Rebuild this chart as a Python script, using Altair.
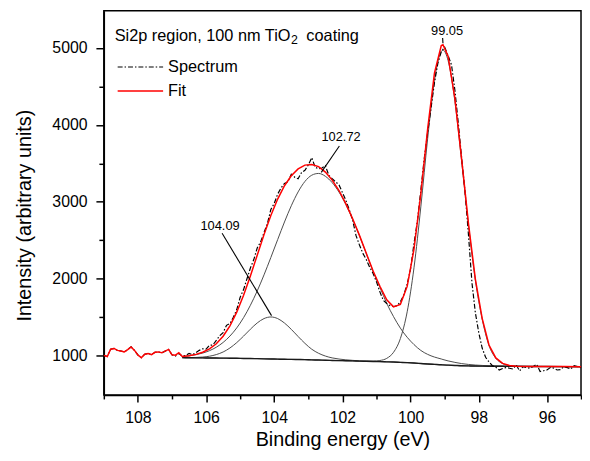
import altair as alt
import pandas as pd

# ---------------- data ----------------
# measured spectrum, binding energy 109.0 -> 95.0 eV, 0.1 eV steps
spec_x = [
    109.0, 108.9, 108.8, 108.7, 108.6, 108.5, 108.4, 108.3, 108.2, 108.1,
    108.0, 107.9, 107.8, 107.7, 107.6, 107.5, 107.4, 107.3, 107.2, 107.1,
    107.0, 106.9, 106.8, 106.7, 106.6, 106.5, 106.4, 106.3, 106.2, 106.1,
    106.0, 105.9, 105.8, 105.7, 105.6, 105.5, 105.4, 105.3, 105.2, 105.1,
    105.0, 104.9, 104.8, 104.7, 104.6, 104.5, 104.4, 104.3, 104.2, 104.1,
    104.0, 103.9, 103.8, 103.7, 103.6, 103.5, 103.4, 103.3, 103.2, 103.1,
    103.0, 102.9, 102.8, 102.7, 102.6, 102.5, 102.4, 102.3, 102.2, 102.1,
    102.0, 101.9, 101.8, 101.7, 101.6, 101.5, 101.4, 101.3, 101.2, 101.1,
    101.0, 100.9, 100.8, 100.7, 100.6, 100.5, 100.4, 100.3, 100.2, 100.1,
    100.0, 99.9, 99.8, 99.7, 99.6, 99.5, 99.4, 99.3, 99.2, 99.1,
    99.0, 98.9, 98.8, 98.7, 98.6, 98.5, 98.4, 98.3, 98.2, 98.1,
    98.0, 97.9, 97.8, 97.7, 97.6, 97.5, 97.4, 97.3, 97.2, 97.1,
    97.0, 96.9, 96.8, 96.7, 96.6, 96.5, 96.4, 96.3, 96.2, 96.1,
    96.0, 95.9, 95.8, 95.7, 95.6, 95.5, 95.4, 95.3, 95.2, 95.1,
    95.0,
]
spec_y = [
    1005, 990, 1085, 1095, 1070, 1062, 1050, 1080, 1115, 1070,
    1010, 975, 1020, 1030, 1015, 1045, 1050, 1038, 1060, 1082,
    1012, 995, 1030, 995, 1005, 1030, 1015, 1040, 1070, 1090,
    1085, 1136, 1140, 1200, 1260, 1300, 1395, 1420, 1500, 1600,
    1760, 1860, 2000, 2140, 2250, 2400, 2480, 2600, 2720, 2900,
    2980, 3100, 3180, 3240, 3260, 3360, 3320, 3300, 3380, 3410,
    3480, 3575, 3450, 3430, 3440, 3470, 3345, 3300, 3260, 3220,
    3120, 3020, 2900, 2760, 2560, 2440, 2330, 2250, 2150, 2070,
    1960, 1830, 1720, 1680, 1650, 1640, 1650, 1700, 1790, 1930,
    2130, 2460, 2750, 3150, 3560, 3900, 4220, 4550, 4800, 4950,
    5010, 4900, 4780, 4450, 4020, 3560, 3120, 2560, 1950, 1560,
    1300, 1100, 980, 920, 870, 850, 815, 835, 846, 838,
    828, 879, 802, 859, 848, 837, 860, 888, 795, 805,
    815, 846, 840, 815, 820, 859, 845, 828, 872, 860,
    846,
]

# red fit: noisy part left of the fitted region
fit_left_x = [109.0, 108.9, 108.8, 108.7, 108.6, 108.5, 108.4, 108.3, 108.2, 108.1,
              108.0, 107.9, 107.8, 107.7, 107.6, 107.5, 107.4, 107.3, 107.2, 107.1,
              107.0, 106.9, 106.8]
fit_left_y = [1005, 990, 1085, 1095, 1070, 1062, 1050, 1080, 1115, 1070,
              1010, 975, 1020, 1030, 1015, 1045, 1050, 1038, 1060, 1082,
              1012, 1008, 1040]

# fitted region grid
model_x = [106.7, 106.5, 106.3, 106.1, 105.9, 105.7, 105.5, 105.3, 105.1, 104.9,
           104.7, 104.5, 104.3, 104.1, 103.9, 103.7, 103.5, 103.3, 103.1, 102.9,
           102.7, 102.5, 102.3, 102.1, 101.9, 101.7, 101.5, 101.3, 101.1, 100.9,
           100.7, 100.5, 100.3, 100.1, 99.9, 99.7, 99.5, 99.3, 99.1, 99.05,
           98.9, 98.7, 98.5, 98.3, 98.1, 97.9, 97.7, 97.5, 97.3, 97.1,
           96.9, 96.5, 96.0, 95.5, 95.0]
background = [975, 974, 973, 972, 971, 970, 969, 968, 967, 965,
              964, 962, 960, 958, 956, 954, 953, 951, 949, 946,
              944, 941, 939, 937, 935, 933, 930, 928, 926, 924,
              921, 918, 914, 910, 905, 899, 893, 888, 883, 881,
              878, 874, 870, 868, 866, 865, 864, 863, 863, 862,
              862, 861, 860, 859, 858]
peak_104 = [1, 2, 5, 11, 23, 45, 80, 133, 204, 290,
            381, 464, 523, 546, 527, 471, 390, 299, 212, 139,
            88, 55, 33, 20, 12, 7, 4, 2, 1, 0,
            0, 0, 0, 0, 0, 0, 0, 0, 0, 0,
            0, 0, 0, 0, 0, 0, 0, 0, 0, 0,
            0, 0, 0, 0, 0]
peak_102 = [15, 25, 40, 63, 95, 141, 204, 288, 395, 530,
            692, 880, 1091, 1319, 1553, 1784, 1996, 2178, 2316, 2400,
            2425, 2391, 2310, 2190, 2030, 1840, 1630, 1400, 1170, 965,
            760, 590, 445, 330, 240, 170, 125, 95, 75, 70,
            55, 40, 28, 19, 13, 9, 6, 4, 2, 1,
            0, 0, 0, 0, 0]
peak_99 = [0, 0, 0, 0, 0, 0, 0, 0, 0, 0,
           0, 0, 0, 0, 0, 0, 0, 0, 0, 0,
           0, 0, 0, 0, 0, 0, 0, 1, 4, 14,
           45, 127, 309, 661, 1239, 2035, 2927, 3689, 4073, 4090,
           3959, 3431, 2648, 1823, 1118, 612, 270, 105, 35, 10,
           3, 0, 0, 0, 0]
fit_y = [991, 1001, 1018, 1046, 1089, 1156, 1253, 1389, 1566, 1785,
         2037, 2306, 2574, 2823, 3036, 3209, 3339, 3428, 3477, 3485,
         3457, 3387, 3282, 3147, 2977, 2780, 2564, 2331, 2101, 1903,
         1726, 1635, 1668, 1901, 2384, 3104, 3945, 4672, 5031, 5041,
         4892, 4345, 3546, 2710, 1997, 1486, 1140, 972, 900, 873,
         865, 861, 860, 859, 858]

# peak labels and their leader lines (data coordinates)
label_text = ["104.09", "102.72", "99.05"]
label_x = [105.59, 102.04, 98.93]
label_y = [2679, 3841, 5215]
leader_x = [105.53, 102.09, 99.06]
leader_y = [2592, 3726, 5130]
leader_x2 = [104.08, 102.62, 99.05]
leader_y2 = [1521, 3383, 5060]

x_ticks = [95, 96, 97, 98, 99, 100, 101, 102, 103, 104, 105, 106, 107, 108, 109]
y_ticks = [1000, 1500, 2000, 2500, 3000, 3500, 4000, 4500, 5000]

# ---------------- frames ----------------
spec_df = pd.DataFrame({"x": spec_x, "y": spec_y})
fit_df = pd.DataFrame({"x": fit_left_x + model_x, "y": fit_left_y + fit_y})
comp_rows = []
for name, arr in [("104.09", peak_104), ("102.72", peak_102), ("99.05", peak_99)]:
    for xv, b, p in zip(model_x, background, arr):
        comp_rows.append({"x": xv, "y": b + p, "comp": name})
comp_df = pd.DataFrame(comp_rows)
bg_df = pd.DataFrame({"x": model_x, "y": background})
lab_df = pd.DataFrame({"x": label_x, "y": label_y, "t": label_text})
lead_df = pd.DataFrame({"x": leader_x, "y": leader_y, "x2": leader_x2, "y2": leader_y2})
one = pd.DataFrame({"a": [0]})

FONT = "Liberation Sans"

xscale = alt.Scale(domain=[95, 109], reverse=True, nice=False, zero=False)
yscale = alt.Scale(domain=[490, 5484], nice=False, zero=False)
xaxis = alt.Axis(
    values=x_ticks,
    labelExpr="datum.value % 2 == 0 ? datum.label : ''",
    tickSize={"condition": {"test": "datum.value % 2 == 0", "value": 7}, "value": 4},
    labelPadding=8,
    title="Binding energy (eV)",
    titleY=51,
    titleBaseline="alphabetic",
    format="d",
)
yaxis = alt.Axis(
    values=y_ticks,
    labelExpr="datum.value % 1000 == 0 ? datum.label : ''",
    tickSize={"condition": {"test": "datum.value % 1000 == 0", "value": 8}, "value": 5},
    labelPadding=9,
    title="Intensity (arbitrary units)",
    titleX=-80,
    titleY=207,
    titleBaseline="middle",
    format="d",
)
X = alt.X("x:Q", scale=xscale, axis=xaxis)
Y = alt.Y("y:Q", scale=yscale, axis=yaxis)

comps = alt.Chart(comp_df).mark_line(color="#4a4a4a", strokeWidth=1, interpolate="monotone").encode(
    x=X, y=Y, detail="comp:N")
base = alt.Chart(bg_df).mark_line(color="#1a1a1a", strokeWidth=1.4, interpolate="monotone").encode(x=X, y=Y)
spec = alt.Chart(spec_df).mark_line(color="black", strokeWidth=1.2, strokeDash=[5, 2, 1.5, 2]).encode(x=X, y=Y)
fit = alt.Chart(fit_df).mark_line(color="#ff0000", strokeWidth=1.5).encode(x=X, y=Y)
leads = alt.Chart(lead_df).mark_rule(color="black", strokeWidth=1.1).encode(x=X, y=Y, x2="x2:Q", y2="y2:Q")
labels = alt.Chart(lab_df).mark_text(font=FONT, fontSize=13, color="black", align="center",
                                     baseline="middle").encode(x=X, y=Y, text="t:N")

# in-plot header and legend
hdr1 = alt.Chart(one).mark_text(text="Si2p region, 100 nm TiO", font=FONT, fontSize=16.5, align="left",
                                baseline="alphabetic", color="black").encode(x=alt.value(11), y=alt.value(30.3))
hdr2 = alt.Chart(one).mark_text(text="2", font=FONT, fontSize=12.5, align="left",
                                baseline="alphabetic", color="black").encode(x=alt.value(189.5), y=alt.value(33.8))
hdr3 = alt.Chart(one).mark_text(text="coating", font=FONT, fontSize=16.5, align="left",
                                baseline="alphabetic", color="black").encode(x=alt.value(205), y=alt.value(30.3))
leg1_line = alt.Chart(one).mark_rule(color="black", strokeWidth=1.2, strokeDash=[5, 2, 1.5, 2]).encode(
    x=alt.value(14), x2=alt.value(60), y=alt.value(57))
leg1_text = alt.Chart(one).mark_text(text="Spectrum", font=FONT, fontSize=16.5, align="left",
                                     baseline="middle", color="black").encode(x=alt.value(65), y=alt.value(57))
leg2_line = alt.Chart(one).mark_rule(color="#ff0000", strokeWidth=1.5).encode(
    x=alt.value(14), x2=alt.value(60), y=alt.value(81.3))
leg2_text = alt.Chart(one).mark_text(text="Fit", font=FONT, fontSize=16.5, align="left",
                                     baseline="middle", color="black").encode(x=alt.value(65), y=alt.value(81.3))

chart = alt.layer(
    comps, base, spec, fit, leads, labels,
    hdr1, hdr2, hdr3, leg1_line, leg1_text, leg2_line, leg2_text,
).properties(
    width=483, height=389,
    padding={"left": 97, "top": 0, "right": 1, "bottom": 56},
    autosize=alt.AutoSizeParams(type="none"),
    background="white",
).configure_view(
    stroke="black", strokeWidth=1.5
).configure_axis(
    grid=False,
    labelFont=FONT, labelFontSize=16, labelColor="black",
    titleFont=FONT, titleFontSize=20, titleFontWeight="normal", titleColor="black",
    domainColor="black", domainWidth=1.5,
    tickColor="black", tickWidth=1.5,
)

chart.save("out.html", embed_options={"renderer": "svg", "actions": False})
